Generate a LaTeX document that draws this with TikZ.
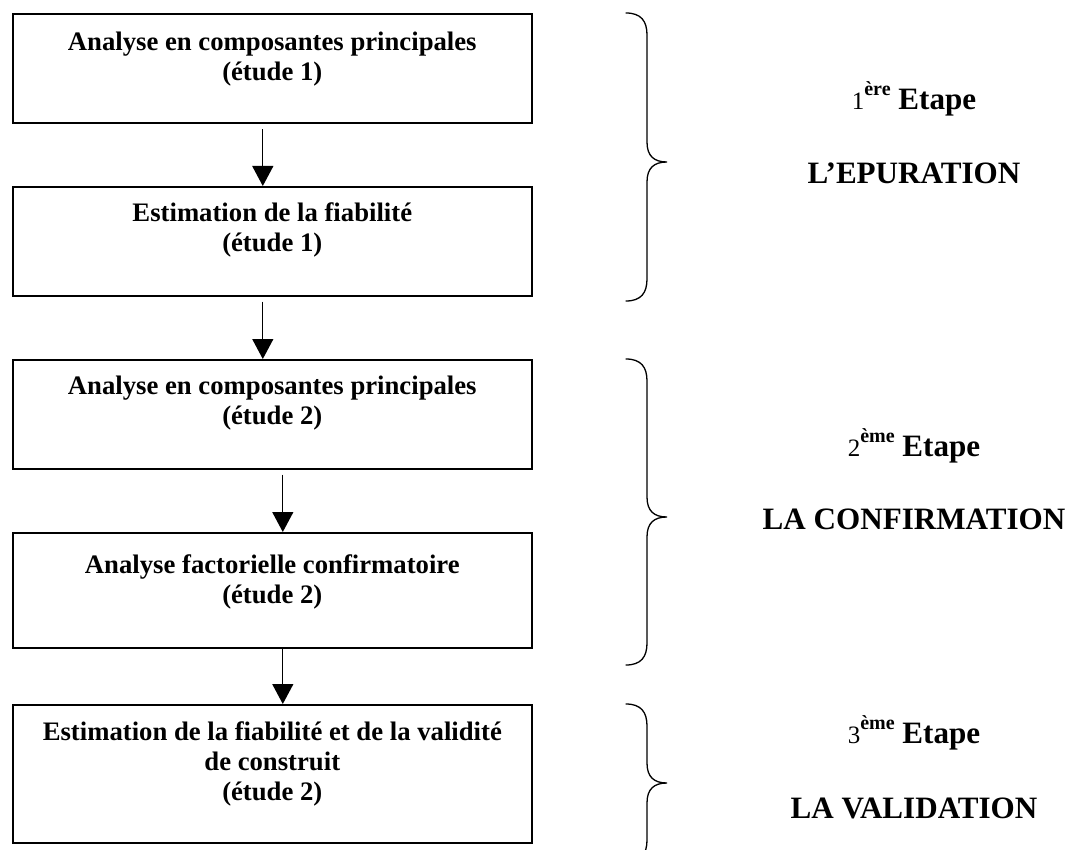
\documentclass[tikz,border=0pt]{standalone}
\usepackage{fontspec}
\setmainfont{Liberation Serif}
\usetikzlibrary{arrows.meta}
\newcommand\boxfont{\fontsize{26.7}{30}\selectfont\bfseries}
\newcommand\stagefont{\fontsize{31.1}{36}\selectfont\bfseries}
\newcommand\numfont{\fontsize{25}{25}\selectfont\mdseries}
\newcommand\supfont{\fontsize{20}{20}\selectfont\bfseries}
\newcommand\boxtext[3]{\parbox[t][#1][t]{519pt}{\centering\rule{0pt}{#2}#3}}
\newcommand\stagebrace[3]{\draw[bracestyle] (626,#1) .. controls (641,#1) and (647,#1+8) .. (647,#1+22) -- (647,#2-20) .. controls (647,#2-6) and (654,#2) .. (667,#2) .. controls (654,#2) and (647,#2+6) .. (647,#2+20) -- (647,#3-22) .. controls (647,#3-8) and (641,#3) .. (626,#3);}
\tikzset{
  stepbox/.style={draw, line width=1.6pt, inner sep=0pt, anchor=north west, font=\boxfont},
  flow/.style={line width=1.3pt, -{Triangle[width=21pt,length=20pt]}},
  bracestyle/.style={line width=1.3pt, line cap=round},
  stage/.style={anchor=base, inner sep=0pt, font=\stagefont},
}
\begin{document}
\begin{tikzpicture}[x=1pt,y=-1pt]
\clip (0,0) rectangle (1087,850);
\fill[white] (0,0) rectangle (1087,850);
% boxes
\node[stepbox] (b1) at (12,13) {\boxtext{109pt}{37pt}{Analyse en composantes principales\\(étude 1)}};
\node[stepbox] (b2) at (12,186) {\boxtext{109pt}{35pt}{Estimation de la fiabilité\\(étude 1)}};
\node[stepbox] (b3) at (12,359) {\boxtext{109pt}{35pt}{Analyse en composantes principales\\(étude 2)}};
\node[stepbox] (b4) at (12,532) {\boxtext{115pt}{41pt}{Analyse factorielle confirmatoire\\(étude 2)}};
\node[stepbox] (b5) at (12,704) {\boxtext{138pt}{36pt}{Estimation de la fiabilité et de la validité\\de construit\\(étude 2)}};
% arrows
\draw[flow] ([xshift=-9.5pt,yshift=-5.5pt]b1.south) -- ([xshift=-9.5pt]b2.north);
\draw[flow] ([xshift=-9.5pt,yshift=-5pt]b2.south) -- ([xshift=-9.5pt]b3.north);
\draw[flow] ([xshift=10.5pt,yshift=-5pt]b3.south) -- ([xshift=10.5pt]b4.north);
\draw[flow] ([xshift=10.5pt]b4.south) -- ([xshift=10.5pt]b5.north);
% braces
\stagebrace{13}{162}{301}
\stagebrace{359}{517}{665}
\stagebrace{704}{783}{862}
% stage labels
\node[stage] (s1) at (914,110) {\numfont 1\raisebox{14pt}{\supfont ère}\stagefont\ Etape};
\node[stage] (n1) at (914,184) {L’EPURATION};
\node[stage] (s2) at (914,456) {\numfont 2\raisebox{14pt}{\supfont ème}\stagefont\ Etape};
\node[stage] (n2) at (914,529) {LA CONFIRMATION};
\node[stage] (s3) at (914,743) {\numfont 3\raisebox{14pt}{\supfont ème}\stagefont\ Etape};
\node[stage] (n3) at (914,818) {LA VALIDATION};
\end{tikzpicture}
\end{document}
